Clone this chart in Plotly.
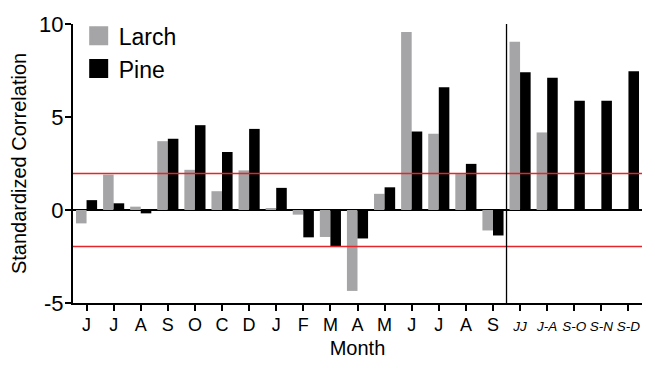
import plotly.graph_objects as go

months = ["J", "J", "A", "S", "O", "C", "D", "J", "F", "M", "A", "M", "J", "J", "A", "S",
          "JJ", "J-A", "S-O", "S-N", "S-D"]
larch = [-0.72, 1.9, 0.18, 3.7, 2.16, 1.01, 2.13, 0.09, -0.25, -1.45, -4.35, 0.87, 9.57, 4.1, 1.93, -1.1,
         9.04, 4.17, 0.0, 0.0, 0.0]
pine = [0.53, 0.36, -0.18, 3.83, 4.56, 3.12, 4.36, 1.19, -1.47, -1.97, -1.53, 1.22, 4.22, 6.6, 2.48, -1.37,
        7.41, 7.11, 5.87, 5.87, 7.46]
sig_level = 1.96
split_at = 15.5
y_ticks = [-5, 0, 5, 10]
y_ticklabels = ["-5", "0", "5", "10"]

FONT = "Liberation Sans, Arial, sans-serif"
GRAY = "#a5a5a7"

x = list(range(len(months)))
ticktext = []
for i, m in enumerate(months):
    if i >= 16:
        ticktext.append(f"<i><span style='font-size:13.5px'>{m}</span></i>")
    else:
        ticktext.append(m)

fig = go.Figure()
fig.add_trace(go.Bar(x=x, y=larch, marker=dict(color=GRAY, line=dict(width=0)), showlegend=False, name="Larch"))
fig.add_trace(go.Bar(x=x, y=pine, marker=dict(color="black", line=dict(width=0)), showlegend=False, name="Pine"))
# legend proxies
fig.add_trace(go.Scatter(x=[None], y=[None], mode="markers", name="Larch",
                         marker=dict(symbol="square", size=16, color=GRAY, line=dict(color=GRAY, width=3))))
fig.add_trace(go.Scatter(x=[None], y=[None], mode="markers", name="Pine",
                         marker=dict(symbol="square", size=16, color="black", line=dict(color="black", width=3))))

for yv in (sig_level, -sig_level):
    fig.add_shape(type="line", xref="paper", x0=0, x1=1, yref="y", y0=yv, y1=yv,
                  line=dict(color="#e3262b", width=1.5))
fig.add_shape(type="line", xref="x", x0=split_at, x1=split_at, yref="y", y0=-5, y1=10,
              line=dict(color="black", width=1.3))

fig.update_layout(
    width=655, height=368,
    margin=dict(l=73, r=13, t=21, b=65),
    paper_bgcolor="white", plot_bgcolor="white",
    barmode="group", bargap=0.22, bargroupgap=0,
    font=dict(family=FONT, color="black"),
    legend=dict(x=0.01, y=1.035, xanchor="left", yanchor="top", bgcolor="rgba(0,0,0,0)",
                font=dict(size=23, family=FONT), itemsizing="trace", tracegroupgap=0),
    xaxis=dict(range=[-0.5, 20.5], tickmode="array", tickvals=x, ticktext=ticktext,
               tickangle=0, automargin=True, ticklabelstandoff=-2,
               showline=True, linecolor="black", linewidth=2, ticks="outside", ticklen=6,
               tickwidth=1.5, tickcolor="black", showgrid=False, zeroline=False,
               tickfont=dict(size=18, family=FONT),
               title=dict(text="Month", font=dict(size=20, family=FONT), standoff=7)),
    yaxis=dict(range=[-5, 10], tickmode="array", tickvals=y_ticks, ticktext=y_ticklabels,
               automargin=True, ticklabelstandoff=-3,
               showline=True, linecolor="black", linewidth=2, ticks="outside", ticklen=6,
               tickwidth=1.5, tickcolor="black", showgrid=False,
               zeroline=True, zerolinecolor="black", zerolinewidth=1.5,
               tickfont=dict(size=22, family=FONT),
               title=dict(text="Standardized Correlation", font=dict(size=20, family=FONT), standoff=7)),
)

fig.write_html("out.html")
